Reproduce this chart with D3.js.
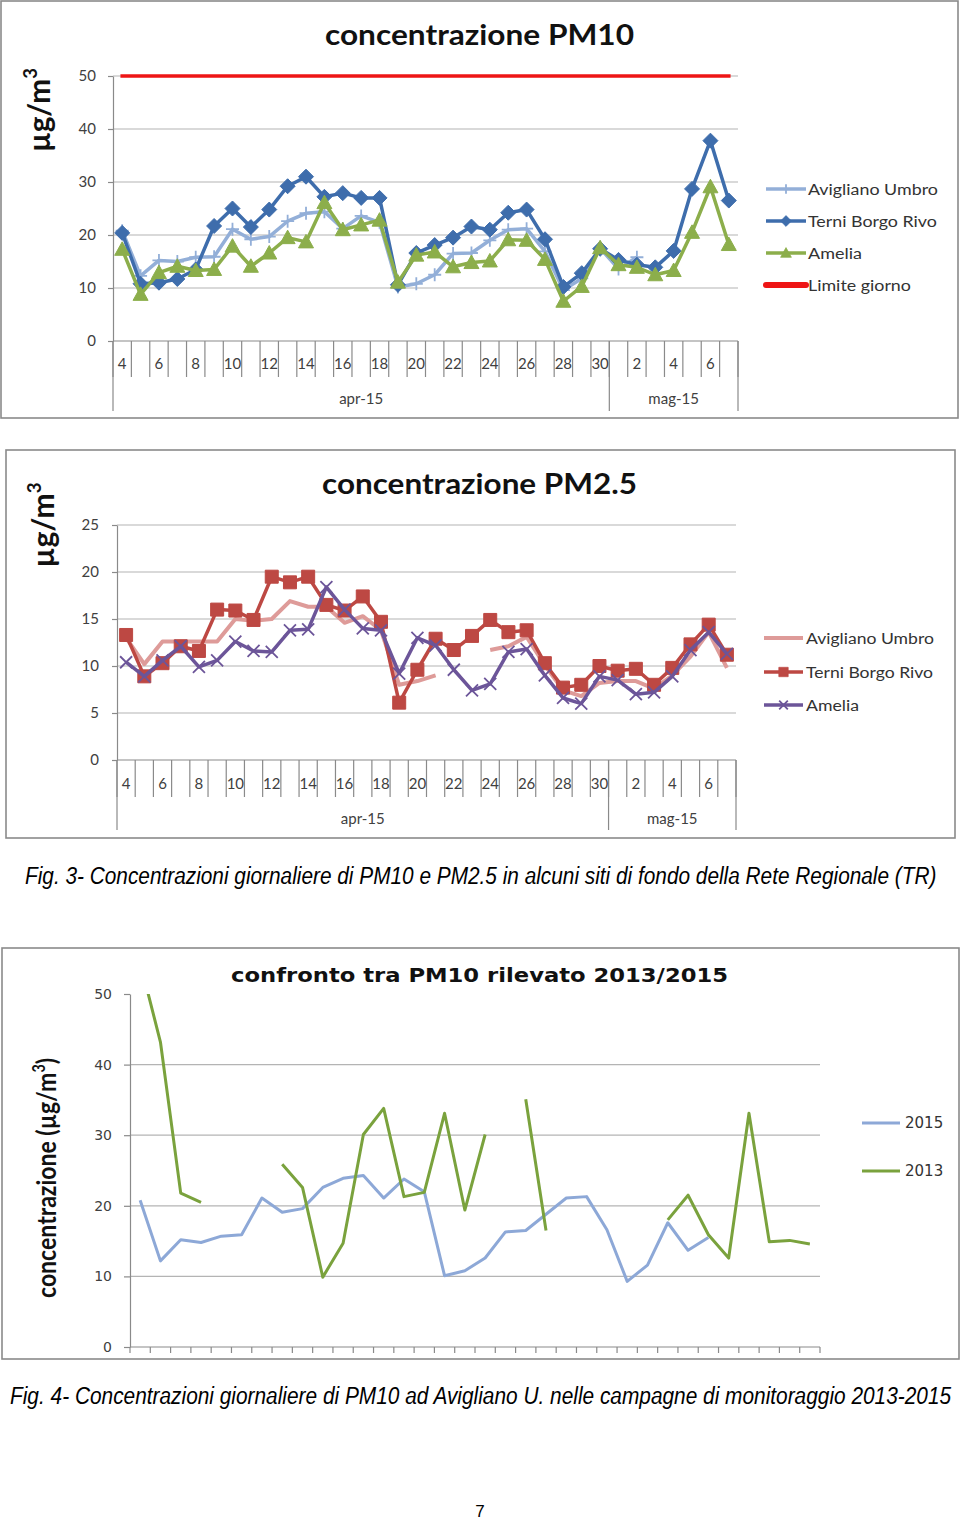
<!DOCTYPE html>
<html><head><meta charset="utf-8">
<script src="https://cdn.jsdelivr.net/npm/d3@7"></script>
<style>body{margin:0;background:#fff} svg{display:block}</style>
</head><body><svg id="c" width="960" height="1521"></svg>
<script>
// ---------- DATA ----------
const dayLabels = ["4","5","6","7","8","9","10","11","12","13","14","15","16","17","18","19","20","21","22","23","24","25","26","27","28","29","30","1","2","3","4","5","6","7"];
const monthLabels = ["apr-15","mag-15"];
const monthCounts = [27, 7];

const pm10Avigliano = [20.8,12.3,15.2,15.0,15.8,15.9,21.1,19.2,19.7,22.6,24.1,24.4,21.2,23.6,22.4,10.2,10.8,12.5,16.5,16.6,19.0,21.0,21.2,16.9,9.6,11.8,17.5,13.6,15.8,null,null,null,null,null];
const pm10Terni = [20.4,10.8,11.0,11.7,13.5,21.7,25.0,21.5,24.8,29.2,31.0,27.2,27.9,27.0,27.0,10.6,16.6,18.1,19.5,21.6,21.0,24.2,24.8,19.2,10.2,12.8,17.4,15.3,14.4,13.9,17.0,28.7,37.8,26.5];
const pm10Amelia = [17.3,8.8,12.9,14.1,13.3,13.5,17.9,14.1,16.6,19.5,18.7,26.1,21.0,21.9,22.8,11.1,16.2,16.8,14.0,14.8,15.1,19.1,19.0,15.4,7.5,10.3,17.6,14.4,13.9,12.5,13.3,20.5,29.1,18.2];
const pm10Limite = [50,50,50,50,50,50,50,50,50,50,50,50,50,50,50,50,50,50,50,50,50,50,50,50,50,50,50,50,50,50,50,50,50,50];

const pm25Avigliano = [13.0,10.2,12.6,12.6,12.6,12.6,15.0,14.8,15.0,16.9,16.3,16.3,14.6,15.3,13.8,8.0,8.4,9.0,null,null,11.7,12.1,13.1,10.1,7.4,6.8,8.2,8.4,8.4,7.6,9.0,11.0,13.6,9.8];
const pm25Terni = [13.3,8.9,10.3,12.1,11.6,16.0,15.9,14.9,19.5,18.9,19.5,16.5,15.9,17.4,14.7,6.1,9.6,12.9,11.7,13.2,14.9,13.6,13.8,10.3,7.7,8.0,10.0,9.5,9.7,8.0,9.8,12.3,14.4,11.2];
const pm25Amelia = [10.4,8.9,10.6,12.1,9.9,10.6,12.6,11.6,11.5,13.8,13.9,18.4,16.0,14.0,13.8,9.2,13.0,12.2,9.6,7.4,8.1,11.5,11.8,9.0,6.6,6.0,8.9,8.5,7.0,7.2,8.9,11.7,13.6,11.3];

const cmp2015 = [20.8,12.2,15.2,14.8,15.7,15.9,21.1,19.1,19.6,22.6,23.9,24.3,21.1,23.8,22.0,10.1,10.8,12.6,16.3,16.5,18.8,21.1,21.3,16.6,9.3,11.6,17.6,13.7,15.5,null,null,null,null,null];
const cmp2013 = [54.5,43.2,21.8,20.5,null,null,null,25.9,22.6,9.9,14.7,30.1,33.8,21.3,21.9,33.1,19.4,30.1,null,35.1,16.5,null,null,null,null,null,18.0,21.5,15.9,12.6,33.1,14.9,15.1,14.6];

const pm10Ticks = [0,10,20,30,40,50];
const pm25Ticks = [0,5,10,15,20,25];
const cmpTicks = [0,10,20,30,40,50];

// ---------- HELPERS ----------
const svg = d3.select("#c");
svg.append("rect").attr("width",960).attr("height",1521).attr("fill","#fff");
const CAL = "Lato, 'Open Sans', 'DejaVu Sans', sans-serif";
const VER = "'DejaVu Sans', Verdana, sans-serif";

const markerPaths = {
  plus: "M-6.5,0H6.5M0,-6.5V6.5",
  diamond: "M0,-7.5L7.5,0L0,7.5L-7.5,0Z",
  triangle: "M0,-7.5L7.5,6L-7.5,6Z",
  square: "M-6.5,-6.5h13v13h-13Z",
  cross: "M-6,-6L6,6M6,-6L-6,6",
  none: null
};
function drawMarker(sel, type, color, scale) {
  const p = markerPaths[type];
  if (!p) return sel;
  const outline = (type === "plus" || type === "cross");
  return sel.append("path").attr("d", p)
    .attr("fill", outline ? "none" : color)
    .attr("stroke", color).attr("stroke-width", outline ? 1.8/scale : 1)
    .attr("transform", `scale(${scale})`);
}

// horizontal fit of a text to a target width (anchor start) by scaling
function fitText(sel, x, y, target) {
  const w = sel.node().getComputedTextLength();
  const k = w > 0 ? target / w : 1;
  sel.attr("x", 0).attr("y", 0).attr("transform", `translate(${x},${y}) scale(${k},1)`);
  return sel;
}

function catChart(cfg) {
  const g = svg.append("g");
  g.append("rect").attr("x",cfg.frame[0]).attr("y",cfg.frame[1]).attr("width",cfg.frame[2]).attr("height",cfg.frame[3])
    .attr("fill","#fff").attr("stroke","#8a8a8a").attr("stroke-width",1.6);
  const n = cfg.n;
  const x = d3.scaleBand().domain(d3.range(n)).range([cfg.x0, cfg.x1]);
  const bw = x.bandwidth();
  const xc = i => x(i) + bw/2;
  const xb = i => cfg.x0 + i*bw;
  const y = d3.scaleLinear().domain([0, cfg.ymax]).range([cfg.yBottom, cfg.yTop]);

  g.append("g").selectAll("line").data(cfg.ticks.filter(t => t > 0 && (cfg.gridTop || t < cfg.ymax))).join("line")
    .attr("x1", cfg.x0).attr("x2", cfg.x1).attr("y1", d => y(d)).attr("y2", d => y(d))
    .attr("stroke","#b4b4b4").attr("stroke-width",1.2);

  const ya = g.append("g").attr("transform",`translate(${cfg.x0},0)`)
    .call(d3.axisLeft(y).tickValues(cfg.ticks).tickSizeInner(cfg.yTickLen).tickSizeOuter(0).tickPadding(cfg.yPad).tickFormat(d3.format("d")));
  ya.select(".domain").attr("stroke","#8a8a8a").attr("stroke-width",1.2);
  ya.selectAll(".tick line").attr("stroke","#8a8a8a").attr("stroke-width",1.2);
  ya.selectAll(".tick text").attr("font-family",cfg.font).attr("font-size",cfg.tickSize).attr("fill","#404040");

  g.append("line").attr("x1",cfg.x0).attr("x2",cfg.x1).attr("y1",cfg.yBottom).attr("y2",cfg.yBottom)
    .attr("stroke","#8a8a8a").attr("stroke-width",1.2);

  if (cfg.labels) {
    g.append("g").selectAll("line").data(d3.range(n+1)).join("line")
      .attr("x1", xb).attr("x2", xb).attr("y1", cfg.yBottom).attr("y2", cfg.yBottom + cfg.catH)
      .attr("stroke","#8a8a8a").attr("stroke-width",1.2);
    const gb = [0]; monthCounts.forEach((c,i) => gb.push(gb[i] + c));
    g.append("g").selectAll("line").data(gb).join("line")
      .attr("x1", xb).attr("x2", xb).attr("y1", cfg.yBottom).attr("y2", cfg.yBottom + cfg.grpH)
      .attr("stroke","#8a8a8a").attr("stroke-width",1.2);
    g.append("g").selectAll("text").data(cfg.labels.map((l,i)=>({l,i})).filter(d => d.i % 2 === 0)).join("text")
      .attr("x", d => xc(d.i)).attr("y", cfg.yBottom + cfg.labY)
      .attr("text-anchor","middle").attr("font-family",CAL).attr("font-size",15).attr("fill","#404040").text(d => d.l);
    g.append("g").selectAll("text").data(monthLabels).join("text")
      .attr("x", (d,i) => (xb(gb[i]) + xb(gb[i+1]))/2).attr("y", cfg.yBottom + cfg.monY)
      .attr("text-anchor","middle").attr("font-family",CAL).attr("font-size",15).attr("fill","#404040").text(d => d);
  } else {
    g.append("g").selectAll("line").data(d3.range(n+1)).join("line")
      .attr("x1", xb).attr("x2", xb).attr("y1", cfg.yBottom).attr("y2", cfg.yBottom + 6)
      .attr("stroke","#8a8a8a").attr("stroke-width",1.2);
  }

  const cid = "clip" + Math.round(cfg.yTop);
  svg.append("clipPath").attr("id",cid).append("rect")
    .attr("x", cfg.x0 - 20).attr("y", cfg.yTop).attr("width", cfg.x1 - cfg.x0 + 40).attr("height", cfg.yBottom - cfg.yTop + 10);

  const line = d3.line().defined(d => d != null).x((d,i) => xc(i)).y(d => y(d));
  const sg = g.append("g").attr("clip-path", cfg.clip ? `url(#${cid})` : null);
  cfg.series.forEach(s => {
    sg.append("path").datum(s.data).attr("d", line).attr("fill","none").attr("stroke", s.color)
      .attr("stroke-width", s.width).attr("stroke-linejoin","round").attr("stroke-linecap", s.cap || "butt");
    if (s.marker && s.marker !== "none") {
      s.data.forEach((v,i) => {
        if (v == null) return;
        const mg = sg.append("g").attr("transform", `translate(${xc(i)},${y(v)})`);
        drawMarker(mg, s.marker, s.mcolor || s.color, 1);
      });
    }
  });

  cfg.series.forEach((s, k) => {
    const ly = cfg.legend.y[k];
    const lg = g.append("g");
    lg.append("line").attr("x1", cfg.legend.x1).attr("x2", cfg.legend.x2).attr("y1", ly).attr("y2", ly)
      .attr("stroke", s.color).attr("stroke-width", s.legW || s.width).attr("stroke-linecap", s.legCap || "butt");
    if (s.marker && s.marker !== "none") {
      const mg = lg.append("g").attr("transform", `translate(${(cfg.legend.x1+cfg.legend.x2)/2},${ly})`);
      drawMarker(mg, s.marker, s.mcolor || s.color, 0.72);
    }
    const t = lg.append("text").attr("x", cfg.legend.tx).attr("y", ly).attr("dy","0.35em")
      .attr("font-family", cfg.legend.font).attr("font-size", cfg.legend.size).attr("fill","#333")
      .text(s.name);
    if (cfg.legend.len) {
      const w = t.node().getComputedTextLength();
      const kx = cfg.legend.len[k] / w;
      t.attr("x", 0).attr("y", 0).attr("transform", `translate(${cfg.legend.tx},${ly}) scale(${kx},1)`);
    }
  });

  g.append("text").attr("x", cfg.title.x).attr("y", cfg.title.y).attr("text-anchor","middle")
    .attr("font-family", cfg.title.font).attr("font-weight","bold").attr("font-size", cfg.title.size).attr("fill","#111")
    .attr("textLength", cfg.title.len).attr("lengthAdjust","spacingAndGlyphs").text(cfg.title.text);

  const yl = g.append("text").attr("transform", `translate(${cfg.ylab.x},${cfg.ylab.y}) rotate(-90)`)
    .attr("text-anchor","middle").attr("font-family", CAL).attr("font-weight","bold").attr("font-size", cfg.ylab.size).attr("fill","#111")
    .attr("textLength", cfg.ylab.len).attr("lengthAdjust","spacingAndGlyphs");
  cfg.ylab.parts.forEach(p => {
    const t = yl.append("tspan").text(p.t);
    if (p.sup) t.attr("font-size", cfg.ylab.size*0.62).attr("dy", -cfg.ylab.size*0.42);
    if (p.after) t.attr("dy", cfg.ylab.size*0.42);
  });
}

// ---------- CHART 1: PM10 ----------
catChart({
  frame:[1,1,957,417], n:34, x0:113, x1:738, yBottom:341, yTop:76, ymax:50, ticks:pm10Ticks,
  yTickLen:5, yPad:12, font:CAL, tickSize:15, gridTop:true,
  labels:dayLabels, catH:36, grpH:70, labY:28, monY:63,
  series:[
    {name:"Avigliano Umbro", data:pm10Avigliano, color:"#93AFD8", width:3.5, marker:"plus"},
    {name:"Terni Borgo Rivo", data:pm10Terni, color:"#3E6DAC", width:3.5, marker:"diamond"},
    {name:"Amelia", data:pm10Amelia, color:"#8CAE4B", width:3.5, marker:"triangle"},
    {name:"Limite giorno", data:pm10Limite, color:"#EE1515", width:3.5, marker:"none", cap:"square", legW:6, legCap:"round"}
  ],
  legend:{x1:766, x2:806, tx:808, y:[189,221,253,285], font:CAL, size:16, len:[130,129,54,103]},
  title:{text:"concentrazione PM10", x:479.5, y:45, size:28, font:CAL, len:309},
  ylab:{x:50, y:110, size:30, len:84, parts:[{t:"µg/m"},{t:"3", sup:true}]}
});

// ---------- CHART 2: PM2.5 ----------
catChart({
  frame:[6,450,949,388], n:34, x0:117, x1:736, yBottom:760, yTop:525, ymax:25, ticks:pm25Ticks,
  yTickLen:5, yPad:13, font:CAL, tickSize:15, gridTop:true,
  labels:dayLabels, catH:37, grpH:70, labY:29, monY:64,
  series:[
    {name:"Avigliano Umbro", data:pm25Avigliano, color:"#DE9B99", width:4, marker:"none"},
    {name:"Terni Borgo Rivo", data:pm25Terni, color:"#BD4843", width:3.5, marker:"square"},
    {name:"Amelia", data:pm25Amelia, color:"#6C5599", width:3.5, marker:"cross"}
  ],
  legend:{x1:764, x2:803, tx:806, y:[638,672,705], font:CAL, size:16, len:[128,127,53]},
  title:{text:"concentrazione PM2.5", x:479.5, y:494, size:28, font:CAL, len:315},
  ylab:{x:54, y:525, size:30, len:85, parts:[{t:"µg/m"},{t:"3", sup:true}]}
});

// ---------- CHART 3: confronto ----------
catChart({
  frame:[2,948,957,411], n:34, x0:130, x1:820, yBottom:1347, yTop:994, ymax:50, ticks:cmpTicks,
  yTickLen:6, yPad:12, font:VER, tickSize:14, gridTop:false, clip:true,
  labels:null,
  series:[
    {name:"2015", data:cmp2015, color:"#8DA8D7", width:3},
    {name:"2013", data:cmp2013, color:"#7AA23D", width:3}
  ],
  legend:{x1:862, x2:900, tx:905, y:[1123,1171], font:VER, size:15},
  title:{text:"confronto tra PM10 rilevato 2013/2015", x:479.5, y:982, size:20, font:VER, len:497},
  ylab:{x:56, y:1178, size:26, len:240, parts:[{t:"concentrazione (µg/m"},{t:"3", sup:true},{t:")", after:true}]}
});

// ---------- CAPTIONS ----------
const capFont = "'Liberation Sans Narrow', 'Liberation Sans', Arial, sans-serif";
const cap1 = svg.append("text").attr("font-family",capFont).attr("font-style","italic").attr("font-size",24)
  .attr("fill","#000").text("Fig. 3- Concentrazioni giornaliere di PM10 e PM2.5 in alcuni siti di fondo della Rete Regionale (TR)");
fitText(cap1, 25, 884, 912);
const cap2 = svg.append("text").attr("font-family",capFont).attr("font-style","italic").attr("font-size",24)
  .attr("fill","#000").text("Fig. 4- Concentrazioni giornaliere di PM10 ad Avigliano U. nelle campagne di monitoraggio 2013-2015");
fitText(cap2, 10, 1404, 942);
svg.append("text").attr("x",480).attr("y",1517).attr("text-anchor","middle").attr("font-family","'Liberation Sans', Arial, sans-serif")
  .attr("font-size",17).attr("fill","#000").text("7");
</script>
</body></html>
